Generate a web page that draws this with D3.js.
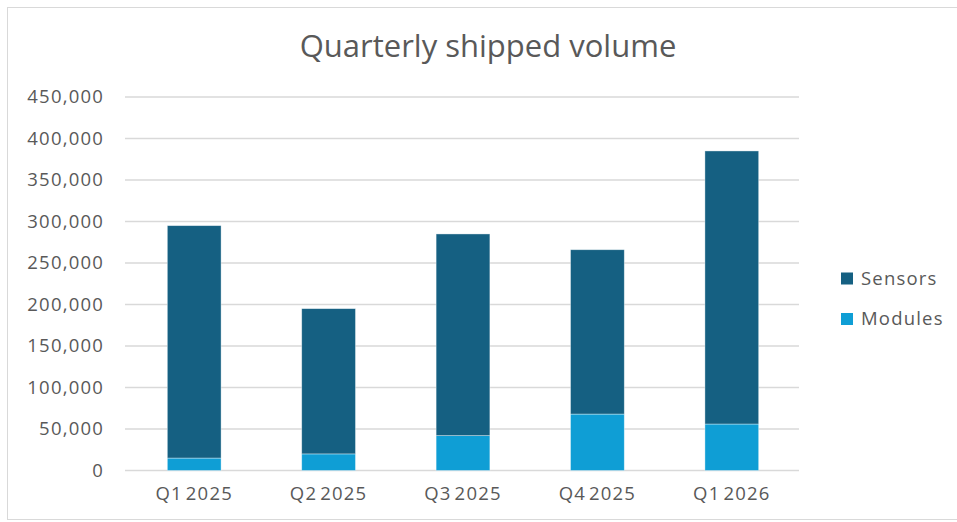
<!DOCTYPE html>
<html>
<head>
<meta charset="utf-8">
<script src="https://cdn.jsdelivr.net/npm/d3@7"></script>
<style>
  body { margin: 0; background: #fff; }
  text { font-family: "Open Sans", "Noto Sans", sans-serif; fill: #595959; }
</style>
</head>
<body>
<div id="container"></div>
<script>
/* DATA */
const quarters = ["Q1 2025", "Q2 2025", "Q3 2025", "Q4 2025", "Q1 2026"];
const modules = [15000, 20000, 42000, 68000, 56000];
const sensors = [280000, 175000, 243000, 198000, 329000];
const yTicks = [0, 50000, 100000, 150000, 200000, 250000, 300000, 350000, 400000, 450000];
const seriesNames = ["Modules", "Sensors"];
const colors = { Modules: "#0f9ed5", Sensors: "#156082" };

/* CONSTANTS */
const W = 957, H = 522;
const plot = { left: 127, right: 799, top: 97, bottom: 470.5 };

const svg = d3.select("#container")
  .append("svg")
  .attr("width", W)
  .attr("height", H);

// chart frame
svg.append("rect")
  .attr("x", 7.5).attr("y", 7.5)
  .attr("width", W + 10).attr("height", H - 10)
  .attr("fill", "#fff")
  .attr("stroke", "#d9d9d9");

/* SCALES */
const xScale = d3.scaleBand()
  .domain(quarters)
  .range([plot.left, plot.right])
  .paddingInner(0.6)
  .paddingOuter(0.3);

const yScale = d3.scaleLinear()
  .domain([0, 450000])
  .range([plot.bottom, plot.top]);

// gridlines
svg.append("g")
  .selectAll("line")
  .data(yTicks)
  .join("line")
  .attr("x1", plot.left - 2)
  .attr("x2", plot.right)
  .attr("y1", d => yScale(d))
  .attr("y2", d => yScale(d))
  .attr("stroke", "#d9d9d9")
  .attr("stroke-width", 1.3);

// y labels
const yAxis = svg.append("g")
  .attr("transform", `translate(${plot.left - 23},0)`)
  .call(d3.axisLeft(yScale).tickValues(yTicks).tickSize(0).tickFormat(d3.format(",")));
yAxis.select(".domain").remove();
yAxis.selectAll("text")
  .style("font-size", "18.5px")
  .style("letter-spacing", "1.2px")
  .attr("fill", "#595959")
  .attr("x", 0);

// x labels
const xAxis = svg.append("g")
  .attr("transform", `translate(0,${plot.bottom})`)
  .call(d3.axisBottom(xScale).tickSize(0));
xAxis.select(".domain").remove();
xAxis.selectAll("text")
  .style("font-size", "18.5px")
  .style("letter-spacing", "1.2px")
  .style("word-spacing", "-3px")
  .attr("fill", "#595959")
  .attr("dy", "1.45em");

/* STACKED BARS */
const table = quarters.map((q, i) => ({ quarter: q, Modules: modules[i], Sensors: sensors[i] }));
const stacked = d3.stack().keys(seriesNames)(table);

svg.append("g")
  .selectAll("g")
  .data(stacked)
  .join("g")
  .attr("fill", d => colors[d.key])
  .selectAll("rect")
  .data(d => d)
  .join("rect")
  .attr("x", d => xScale(d.data.quarter))
  .attr("width", xScale.bandwidth())
  .attr("y", d => yScale(d[1]))
  .attr("height", d => yScale(d[0]) - yScale(d[1]))
  .attr("stroke", "#ffffff")
  .attr("stroke-opacity", 0.5)
  .attr("stroke-width", 0.75);

/* TITLE */
svg.append("text")
  .attr("x", 488)
  .attr("y", 57)
  .attr("text-anchor", "middle")
  .style("font-size", "31px")
  .text("Quarterly shipped volume");

/* LEGEND */
const legend = svg.append("g")
  .selectAll("g")
  .data(["Sensors", "Modules"])
  .join("g")
  .attr("transform", (d, i) => `translate(841,${272.5 + i * 40.5})`);

legend.append("rect")
  .attr("width", 12)
  .attr("height", 12)
  .attr("fill", d => colors[d]);

legend.append("text")
  .attr("x", 20)
  .attr("y", 6)
  .attr("dy", "0.35em")
  .style("font-size", "18.5px")
  .style("letter-spacing", "1.2px")
  .text(d => d);
</script>
</body>
</html>
